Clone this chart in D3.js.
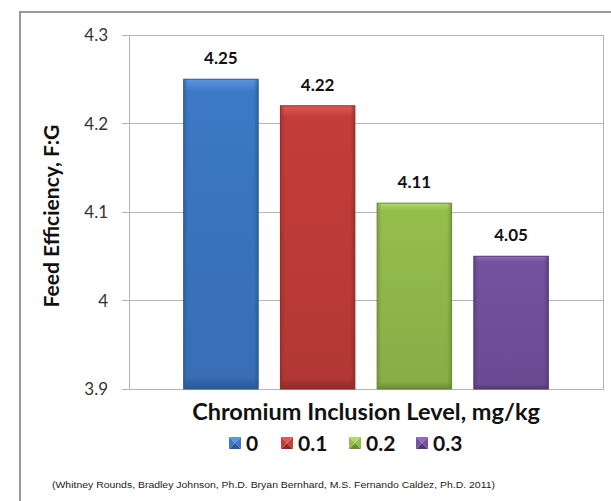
<!DOCTYPE html>
<html>
<head>
<meta charset="utf-8">
<script src="https://cdn.jsdelivr.net/npm/d3@7"></script>
<style>
  body { margin: 0; background: #fff; }
  svg { display: block; }
</style>
</head>
<body>
<div id="chart"></div>
<script>
const categories = ["Chromium Inclusion Level, mg/kg"];
const seriesNames = ["0", "0.1", "0.2", "0.3"];
const seriesValues = [4.25, 4.22, 4.11, 4.05];
const yTicks = [3.9, 4, 4.1, 4.2, 4.3];
const colors = [
  { base: "#3c78c6", light: "#5a95dd", dark: "#2a5894" },
  { base: "#c43d3a", light: "#dc5a56", dark: "#8f2a28" },
  { base: "#94be4c", light: "#b0d86a", dark: "#6a8a35" },
  { base: "#7452a0", light: "#8e6cba", dark: "#523976" },
];
const sourceNote =
  "(Whitney Rounds, Bradley Johnson, Ph.D. Bryan Bernhard, M.S. Fernando Caldez, Ph.D. 2011)";

const width = 611,
  height = 501;
const plot = { left: 129, right: 603, top: 35, bottom: 389 };
const font = "Lato, 'Open Sans', sans-serif";

const svg = d3
  .select("#chart")
  .append("svg")
  .attr("width", width)
  .attr("height", height);

const defs = svg.append("defs");
colors.forEach((c, i) => {
  const g = defs
    .append("linearGradient")
    .attr("id", "grad" + i)
    .attr("x1", 0)
    .attr("y1", 0)
    .attr("x2", 0)
    .attr("y2", 1);
  g.append("stop").attr("offset", "0%").attr("stop-color", c.light);
  g.append("stop").attr("offset", "4%").attr("stop-color", c.base);
  g.append("stop").attr("offset", "96%").attr("stop-color", d3.color(c.base).darker(0.25));
  g.append("stop").attr("offset", "100%").attr("stop-color", c.dark);
  const h = defs
    .append("linearGradient")
    .attr("id", "side" + i)
    .attr("x1", 0)
    .attr("y1", 0)
    .attr("x2", 1)
    .attr("y2", 0);
  h.append("stop").attr("offset", "0%").attr("stop-color", c.dark).attr("stop-opacity", 0.6);
  h.append("stop").attr("offset", "6%").attr("stop-color", c.dark).attr("stop-opacity", 0);
  h.append("stop").attr("offset", "94%").attr("stop-color", c.dark).attr("stop-opacity", 0);
  h.append("stop").attr("offset", "100%").attr("stop-color", c.dark).attr("stop-opacity", 0.7);
});

// outer frame (runs off the right and bottom edge)
svg
  .append("rect")
  .attr("x", 20)
  .attr("y", 12)
  .attr("width", 640)
  .attr("height", 540)
  .attr("fill", "#fff")
  .attr("stroke", "#9a9a9a")
  .attr("stroke-width", 2);

const y = d3.scaleLinear().domain([3.9, 4.3]).range([plot.bottom, plot.top]);
const x0 = d3
  .scaleBand()
  .domain(categories)
  .range([plot.left, plot.right])
  .paddingInner(0)
  .paddingOuter(0.15);
const x1 = d3
  .scaleBand()
  .domain(seriesNames)
  .range([0, x0.bandwidth()])
  .paddingInner(0.23)
  .paddingOuter(0);

// gridlines + ticks
svg
  .append("g")
  .selectAll("line")
  .data(yTicks)
  .join("line")
  .attr("x1", plot.left - 7)
  .attr("x2", plot.right)
  .attr("y1", (d) => Math.round(y(d)) + 0.5)
  .attr("y2", (d) => Math.round(y(d)) + 0.5)
  .attr("stroke", "#b4b4b4")
  .attr("stroke-width", 1);

svg
  .append("rect")
  .attr("x", plot.left + 0.5)
  .attr("y", Math.round(y(4.3)) + 0.5)
  .attr("width", plot.right - plot.left)
  .attr("height", Math.round(y(3.9)) - Math.round(y(4.3)))
  .attr("fill", "none")
  .attr("stroke", "#b4b4b4");

svg
  .append("g")
  .selectAll("text")
  .data(yTicks)
  .join("text")
  .attr("x", 108)
  .attr("y", (d) => y(d) + 6)
  .attr("text-anchor", "end")
  .attr("font-family", font)
  .attr("font-size", 17)
  .attr("fill", "#333")
  .text((d) => d3.format("")(d));

// bars
const cat = categories[0];
const bars = svg.append("g");
seriesNames.forEach((s, i) => {
  const bx = x0(cat) + x1(s);
  const bw = x1.bandwidth();
  const top = y(seriesValues[i]);
  bars
    .append("rect")
    .attr("x", bx)
    .attr("y", top)
    .attr("width", bw)
    .attr("height", y(3.9) - top)
    .attr("fill", `url(#grad${i})`)
    .attr("stroke", colors[i].dark)
    .attr("stroke-width", 1);
  bars
    .append("rect")
    .attr("x", bx)
    .attr("y", top)
    .attr("width", bw)
    .attr("height", y(3.9) - top)
    .attr("fill", `url(#side${i})`);
  bars
    .append("text")
    .attr("x", bx + bw / 2)
    .attr("y", top - 15)
    .attr("text-anchor", "middle")
    .attr("font-family", font)
    .attr("font-weight", 700)
    .attr("font-size", 17)
    .attr("fill", "#111")
    .text(d3.format(".2f")(seriesValues[i]));
});

// axis titles
svg
  .append("text")
  .attr("transform", `translate(59,${(plot.top + plot.bottom) / 2 + 4}) rotate(-90)`)
  .attr("text-anchor", "middle")
  .attr("font-family", font)
  .attr("font-weight", 700)
  .attr("font-size", 21)
  .attr("fill", "#111")
  .text("Feed Efficiency, F:G");

svg
  .append("text")
  .attr("x", (plot.left + plot.right) / 2)
  .attr("y", 420)
  .attr("text-anchor", "middle")
  .attr("font-family", font)
  .attr("font-weight", 700)
  .attr("font-size", 23.5)
  .attr("fill", "#111")
  .text(categories[0]);

// legend
const legendX = [229, 281, 349, 416];
const legend = svg.append("g");
seriesNames.forEach((s, i) => {
  const lx = legendX[i],
    ly = 437,
    sz = 12;
  const c = colors[i];
  const pts = {
    tl: [lx, ly],
    tr: [lx + sz, ly],
    br: [lx + sz, ly + sz],
    bl: [lx, ly + sz],
    c: [lx + sz / 2, ly + sz / 2],
  };
  const tri = [
    [pts.tl, pts.tr, pts.c, c.light],
    [pts.tr, pts.br, pts.c, c.base],
    [pts.br, pts.bl, pts.c, c.dark],
    [pts.bl, pts.tl, pts.c, c.base],
  ];
  tri.forEach((t) => {
    legend
      .append("path")
      .attr("d", d3.line()([t[0], t[1], t[2]]) + "Z")
      .attr("fill", t[3]);
  });
  legend
    .append("text")
    .attr("x", lx + sz + 5)
    .attr("y", ly + sz + 2)
    .attr("font-family", font)
    .attr("font-weight", 700)
    .attr("font-size", 21)
    .attr("fill", "#111")
    .text(s);
});

svg
  .append("text")
  .attr("x", 52)
  .attr("y", 488)
  .attr("font-family", "Liberation Sans, Arial, sans-serif")
  .attr("font-size", 8.5)
  .attr("fill", "#222")
  .attr("textLength", 443)
  .attr("lengthAdjust", "spacingAndGlyphs")
  .text(sourceNote);
</script>
</body>
</html>
